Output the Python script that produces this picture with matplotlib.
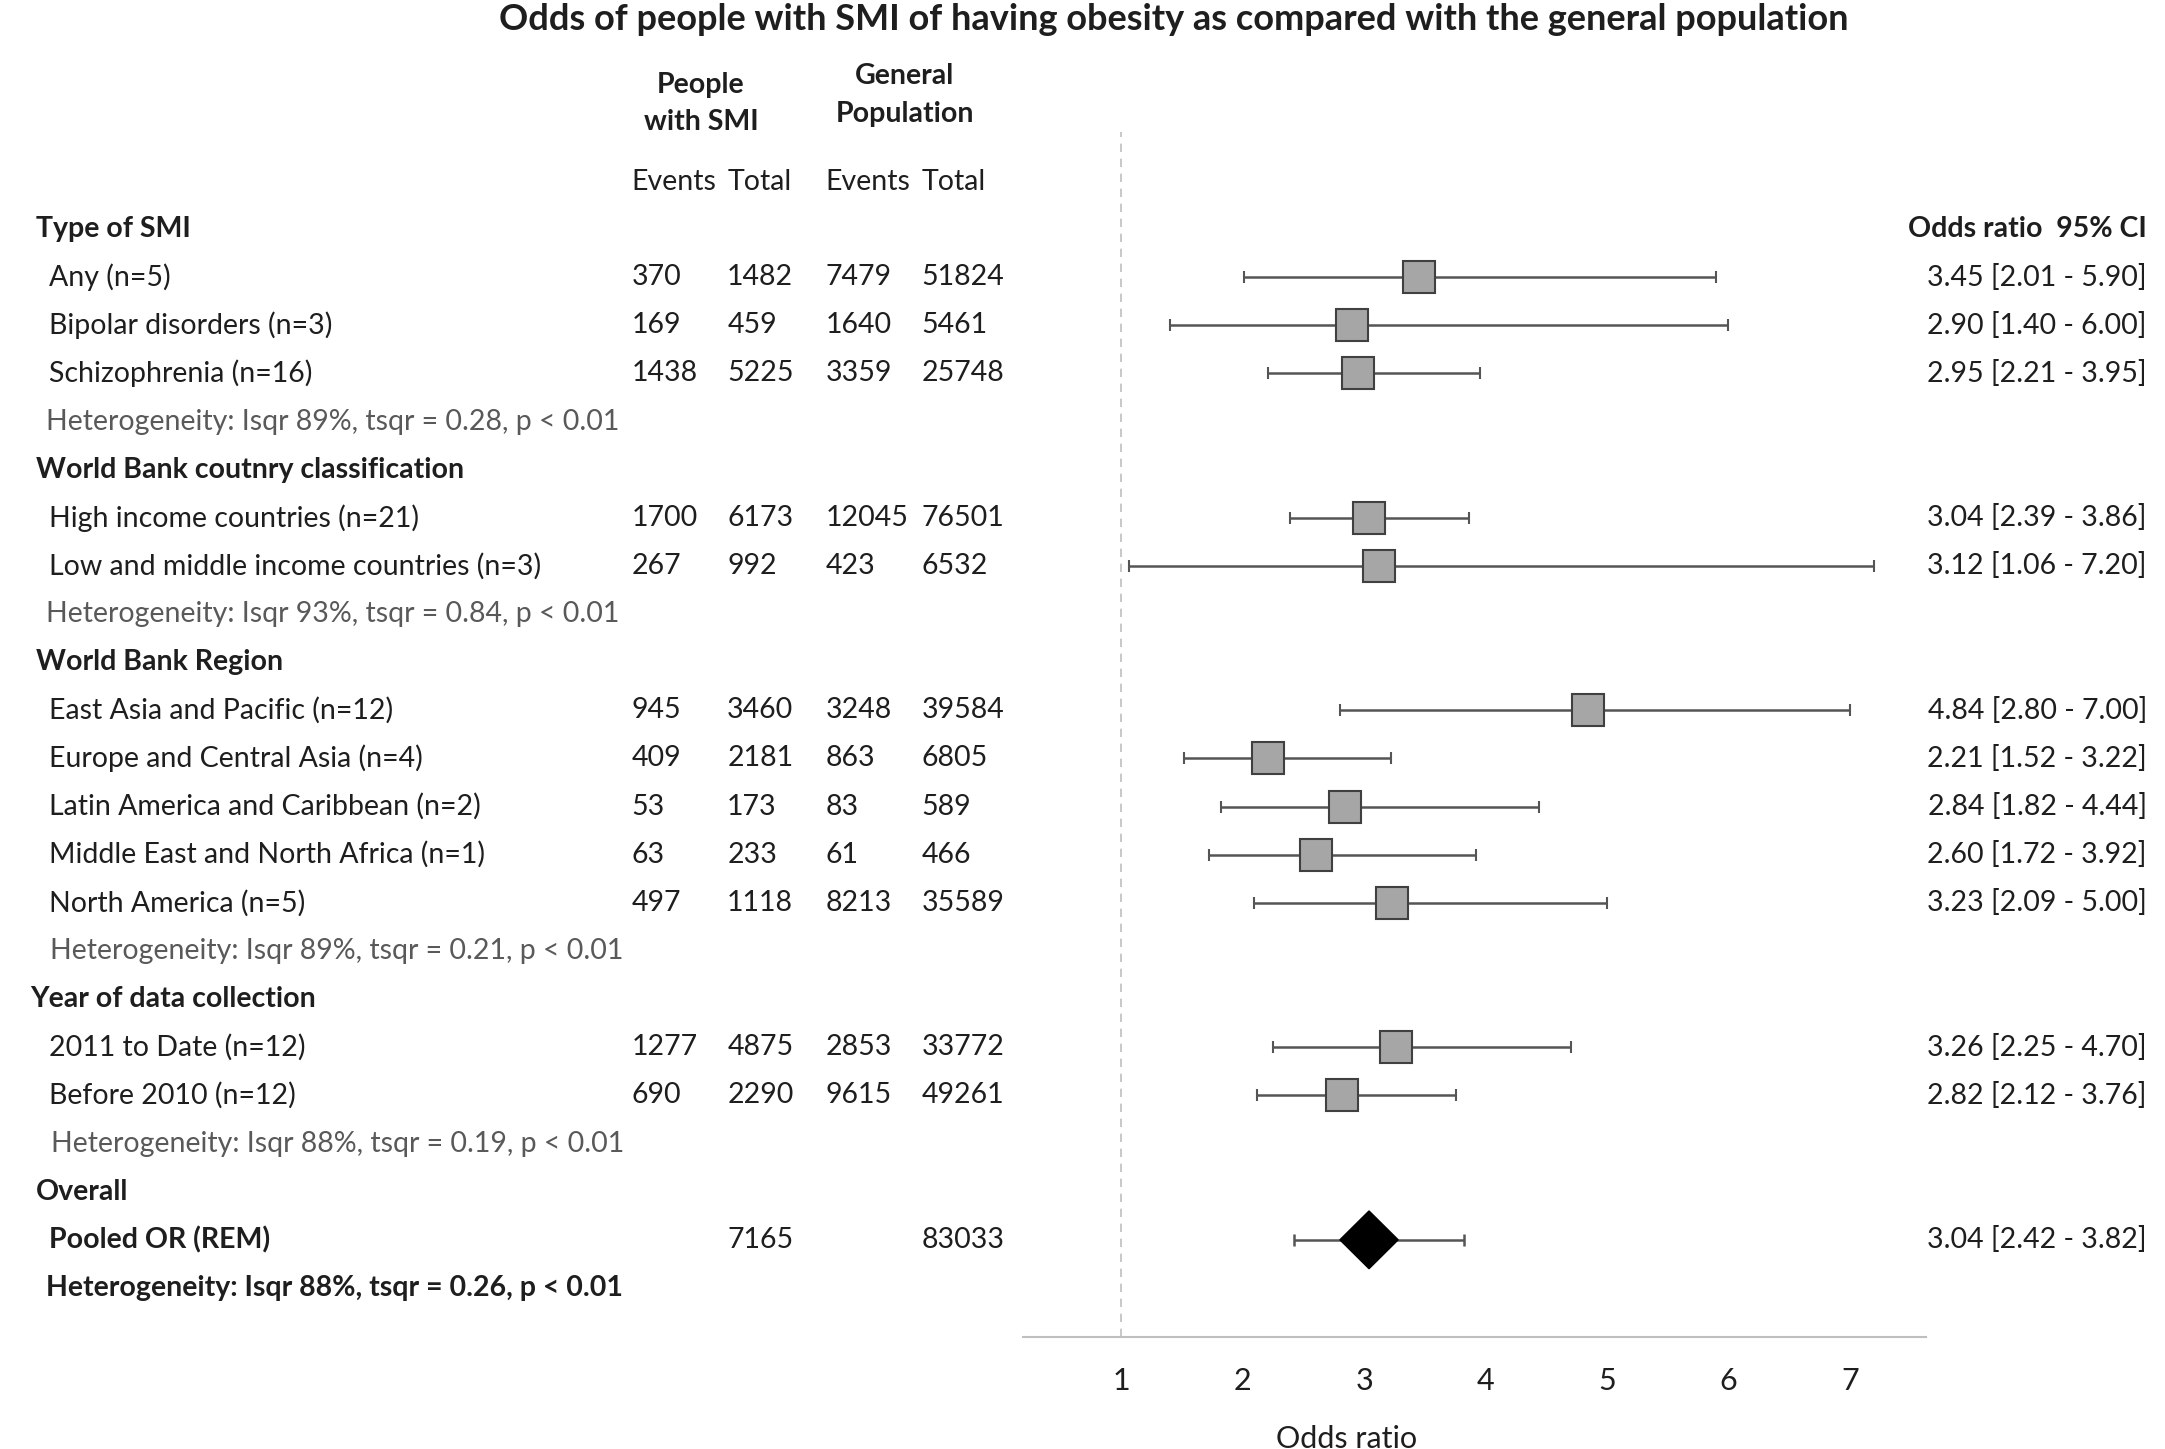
import matplotlib
matplotlib.use("Agg")
import matplotlib.pyplot as plt
from matplotlib.patches import Polygon
from matplotlib.transforms import blended_transform_factory

plt.rcParams['font.family'] = ['Lato', 'DejaVu Sans']

# subgroup data
groups = ["Type of SMI", "World Bank coutnry classification", "World Bank Region", "Year of data collection"]
labels = ["Any (n=5)", "Bipolar disorders (n=3)", "Schizophrenia (n=16)",
          "High income countries (n=21)", "Low and middle income countries (n=3)",
          "East Asia and Pacific (n=12)", "Europe and Central Asia (n=4)",
          "Latin America and Caribbean (n=2)", "Middle East and North Africa (n=1)",
          "North America (n=5)",
          "2011 to Date (n=12)", "Before 2010 (n=12)"]
group_of = [0, 0, 0, 1, 1, 2, 2, 2, 2, 2, 3, 3]
smi_events = [370, 169, 1438, 1700, 267, 945, 409, 53, 63, 497, 1277, 690]
smi_total = [1482, 459, 5225, 6173, 992, 3460, 2181, 173, 233, 1118, 4875, 2290]
gen_events = [7479, 1640, 3359, 12045, 423, 3248, 863, 83, 61, 8213, 2853, 9615]
gen_total = [51824, 5461, 25748, 76501, 6532, 39584, 6805, 589, 466, 35589, 33772, 49261]
odds = [3.45, 2.90, 2.95, 3.04, 3.12, 4.84, 2.21, 2.84, 2.60, 3.23, 3.26, 2.82]
ci_lo = [2.01, 1.40, 2.21, 2.39, 1.06, 2.80, 1.52, 1.82, 1.72, 2.09, 2.25, 2.12]
ci_hi = [5.90, 6.00, 3.95, 3.86, 7.20, 7.00, 3.22, 4.44, 3.92, 5.00, 4.70, 3.76]
heterogeneity = ["Isqr 89%, tsqr = 0.28, p < 0.01", "Isqr 93%, tsqr = 0.84, p < 0.01",
                 "Isqr 89%, tsqr = 0.21, p < 0.01", "Isqr 88%, tsqr = 0.19, p < 0.01"]

# pooled estimate
pooled_smi_total = 7165
pooled_gen_total = 83033
pooled_or = 3.04
pooled_lo = 2.42
pooled_hi = 3.82
pooled_het = "Isqr 88%, tsqr = 0.26, p < 0.01"

x_ticks = [1, 2, 3, 4, 5, 6, 7]

W, H = 1560.0, 1044.0   # layout measured on a scaled copy of the reference
def fx(x):
    return x / W
def fy(y):
    return 1 - y / H

TXT = '#1e1e1e'
HET = '#595959'
FS = 20.5

fig = plt.figure(figsize=(21.65, 14.49), dpi=100)
ax = fig.add_axes([fx(737), fy(963), fx(1388) - fx(737), fy(95) - fy(963)])
ax.set_xlim(0.189, 7.629)
ax.set_ylim(23.01, -2.018)
for s in ['top', 'right', 'left']:
    ax.spines[s].set_visible(False)
ax.spines['bottom'].set_color('#bfbfbf')
ax.spines['bottom'].set_linewidth(1.5)
ax.set_yticks([])
ax.set_xticks(x_ticks)
ax.tick_params(axis='x', length=0, pad=22, labelsize=22, labelcolor=TXT)
ax.axvline(1, color='#bfbfbf', lw=1.2, ls=(0, (5, 4)), zorder=0)

tr = blended_transform_factory(fig.transFigure, ax.transData)

def put(x, row, s, bold=False, color=TXT, ha='left', size=FS):
    ax.text(fx(x), row, s, transform=tr, ha=ha, va='center', fontsize=size,
            color=color, fontweight='bold' if bold else 'normal')

# column headers
fig.text(fx(846), fy(14), "Odds of people with SMI of having obesity as compared with the general population",
         ha='center', va='center', fontsize=26, fontweight='bold', color=TXT)
fig.text(fx(505), fy(61), "People", ha='center', va='center', fontsize=FS, fontweight='bold', color=TXT)
fig.text(fx(505), fy(88), "with SMI", ha='center', va='center', fontsize=FS, fontweight='bold', color=TXT)
fig.text(fx(652), fy(55), "General", ha='center', va='center', fontsize=FS, fontweight='bold', color=TXT)
fig.text(fx(652), fy(82), "Population", ha='center', va='center', fontsize=FS, fontweight='bold', color=TXT)
put(455, -0.98, "Events")
put(524, -0.98, "Total")
put(595, -0.98, "Events")
put(664, -0.98, "Total")
put(1547, 0, "Odds ratio  95% CI", bold=True, ha='right')

group_x = [26, 26, 26, 22]
het_x = [33, 33, 36, 37]

row = 0
for g, gname in enumerate(groups):
    put(group_x[g], row, gname, bold=True)
    row += 1
    for i in range(len(labels)):
        if group_of[i] != g:
            continue
        put(35, row, labels[i])
        put(455, row, str(smi_events[i]))
        put(524, row, str(smi_total[i]))
        put(595, row, str(gen_events[i]))
        put(664, row, str(gen_total[i]))
        put(1547, row, f"{odds[i]:.2f} [{ci_lo[i]:.2f} - {ci_hi[i]:.2f}]", ha='right')
        ax.errorbar(odds[i], row, xerr=[[odds[i] - ci_lo[i]], [ci_hi[i] - odds[i]]],
                    fmt='s', ms=23, mfc='#a6a6a6', mec='#404040', mew=1.5,
                    ecolor='#555555', elinewidth=1.8, capsize=4, capthick=1.8, zorder=3)
        row += 1
    put(het_x[g], row, "Heterogeneity: " + heterogeneity[g], color=HET)
    row += 1

put(26, row, "Overall", bold=True)
row += 1
put(35, row, "Pooled OR (REM)", bold=True)
put(524, row, str(pooled_smi_total))
put(664, row, str(pooled_gen_total))
put(1547, row, f"{pooled_or:.2f} [{pooled_lo:.2f} - {pooled_hi:.2f}]", ha='right')
ax.errorbar(pooled_or, row, xerr=[[pooled_or - pooled_lo], [pooled_hi - pooled_or]],
            fmt='none', ecolor='#555555', elinewidth=1.8, capsize=4, capthick=1.8, zorder=2)
hw, hh = 0.24, 0.6
ax.add_patch(Polygon([[pooled_or - hw, row], [pooled_or, row - hh], [pooled_or + hw, row], [pooled_or, row + hh]],
                     closed=True, fc='black', ec='black', zorder=3))
row += 1
put(33, row, "Heterogeneity: " + pooled_het, bold=True)

fig.text(fx(970), fy(1037), "Odds ratio", ha='center', va='center', fontsize=22, color=TXT)

fig.savefig("out.png", dpi=100)
